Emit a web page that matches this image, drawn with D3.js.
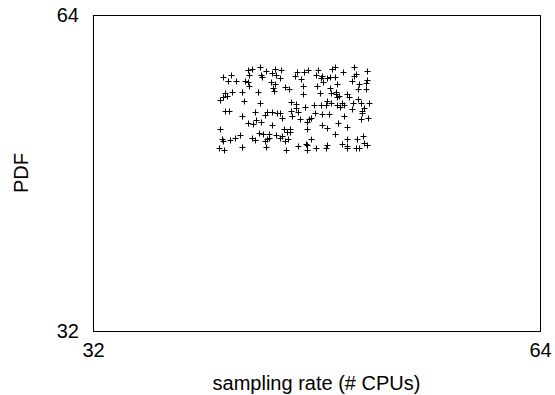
<!DOCTYPE html>
<html>
<head>
<meta charset="utf-8">
<script src="https://cdn.jsdelivr.net/npm/d3@7"></script>
<style>
    body { margin: 0; background: #fff; }
    svg { display: block; }
</style>
</head>
<body>
<svg id="chart"></svg>
<script>
// axis ranges and tick labels
const xDomain = [32, 64];
const yDomain = [32, 64];
const xTicks = [32, 64];
const yTicks = [32, 64];

// sampling rate (# CPUs) of each point
const rateX = [
    43.94, 43.38, 43.10, 43.19, 44.03, 44.12, 44.42, 41.31, 41.88, 41.63,
    42.27, 42.85, 43.10, 43.17, 41.47, 41.92, 42.70, 43.81, 41.59, 41.34,
    41.09, 42.81, 43.92, 44.82, 45.03, 45.10, 45.46, 45.39, 44.71, 45.03,
    44.92, 44.98, 45.75, 46.03, 46.18, 46.53, 46.43, 46.61, 47.11, 47.39,
    46.89, 47.95, 48.11, 48.30, 47.00, 47.06, 48.07, 48.25, 47.18, 47.79,
    48.29, 48.49, 48.78, 48.95, 49.13, 49.31, 49.31, 49.90, 50.69, 50.81,
    50.69, 51.60, 50.57, 51.05, 51.53, 51.00, 51.53, 48.95, 49.49, 49.02,
    49.38, 49.61, 49.49, 50.21, 50.33, 48.78, 49.02, 48.66, 49.49, 49.85,
    49.97, 50.64, 51.00, 51.17, 51.76, 51.40, 48.40, 49.42, 51.64, 41.47,
    41.72, 42.67, 43.62, 44.29, 43.67, 44.05, 43.10, 43.43, 41.11, 43.86,
    44.15, 43.38, 43.62, 44.29, 41.24, 41.31, 41.83, 42.19, 42.55, 41.00,
    41.36, 42.67, 44.39, 44.46, 44.82, 45.17, 45.41, 45.53, 46.25, 46.18,
    46.64, 46.82, 44.82, 45.65, 46.13, 45.89, 46.11, 44.58, 45.12, 45.53,
    44.58, 44.46, 45.73, 45.39, 45.94, 45.82, 46.51, 50.57, 51.24, 51.28,
    51.69, 51.17, 47.59, 47.47, 47.30, 48.42, 48.90, 49.97, 47.30, 48.42,
    48.78, 49.56, 50.17, 49.33, 47.63, 46.68, 47.23, 47.34, 47.30, 47.95,
    48.66, 48.78, 49.85, 50.21, 50.21, 50.21, 50.81, 50.92, 51.35, 51.40,
    51.64, 51.05, 49.65, 47.92
];

// PDF value of each point
const pdfY = [
    58.70, 58.50, 58.38, 57.93, 57.93, 57.72, 58.28, 57.75, 57.93, 57.32,
    57.32, 57.32, 57.17, 56.86, 56.07, 56.20, 56.20, 56.25, 55.75, 55.65,
    55.44, 55.29, 55.12, 58.16, 58.50, 57.93, 58.48, 57.67, 57.22, 57.01,
    56.58, 56.30, 56.71, 56.46, 55.24, 54.96, 57.87, 58.18, 58.26, 58.43,
    57.47, 57.93, 58.48, 57.65, 56.78, 55.95, 56.76, 56.07, 54.72, 54.84,
    54.89, 57.25, 57.59, 57.75, 58.50, 58.70, 57.75, 58.20, 58.70, 58.00,
    57.82, 58.36, 57.32, 57.01, 57.08, 56.48, 56.48, 56.64, 57.01, 56.07,
    55.97, 55.80, 55.73, 55.97, 55.67, 55.29, 55.06, 54.89, 54.89, 55.06,
    54.89, 55.12, 55.46, 55.06, 55.06, 54.61, 57.82, 56.25, 57.42, 54.28,
    54.28, 53.77, 54.18, 53.84, 53.37, 53.17, 53.09, 52.93, 52.43, 52.08,
    51.98, 51.58, 51.34, 51.24, 51.41, 51.24, 51.34, 51.58, 51.82, 50.56,
    50.30, 50.66, 50.66, 54.18, 54.18, 54.05, 54.05, 53.60, 53.77, 54.28,
    54.18, 53.50, 52.83, 52.49, 52.49, 52.15, 52.15, 51.92, 51.82, 51.75,
    51.58, 51.41, 51.24, 51.51, 51.41, 50.33, 54.61, 54.51, 54.28, 54.11,
    53.60, 53.50, 53.60, 53.44, 53.20, 53.95, 54.01, 53.77, 52.49, 52.83,
    52.59, 53.03, 52.69, 51.92, 51.47, 50.73, 50.97, 50.81, 50.30, 50.56,
    50.56, 50.81, 50.97, 51.41, 50.73, 50.50, 50.56, 51.47, 51.75, 51.01,
    50.81, 50.50, 54.68, 54.11
];

const width = 555, height = 395;
const margin = { top: 15, right: 15, bottom: 64, left: 93 };
const font = "'Liberation Sans', Arial, Helvetica, sans-serif";
const fontSize = 20;

const svg = d3.select("#chart")
    .attr("width", width)
    .attr("height", height);

// scales
const x = d3.scaleLinear()
    .domain(xDomain)
    .range([margin.left, width - margin.right]);

const y = d3.scaleLinear()
    .domain(yDomain)
    .range([height - margin.bottom, margin.top]);

// X axis, labels only
svg.append("g")
    .attr("transform", `translate(0, ${height - margin.bottom})`)
    .call(d3.axisBottom(x).tickValues(xTicks).tickSize(0).tickPadding(12))
    .call(g => g.select(".domain").remove())
    .call(g => g.selectAll("text")
        .attr("font-family", font).attr("font-size", fontSize).attr("fill", "#000"));

// Y axis, labels only
svg.append("g")
    .attr("transform", `translate(${margin.left}, 0)`)
    .call(d3.axisLeft(y).tickValues(yTicks).tickSize(0).tickPadding(14))
    .call(g => g.select(".domain").remove())
    .call(g => g.selectAll("text")
        .attr("font-family", font).attr("font-size", fontSize).attr("fill", "#000"));

// plot frame
svg.append("rect")
    .attr("x", x(xDomain[0]) + 0.5)
    .attr("y", y(yDomain[1]) + 0.5)
    .attr("width", x(xDomain[1]) - x(xDomain[0]))
    .attr("height", y(yDomain[0]) - y(yDomain[1]))
    .attr("fill", "none")
    .attr("stroke", "#000")
    .attr("stroke-width", 1);

// "+" points
const points = rateX.map((v, i) => ({ x: v, y: pdfY[i] }));
svg.append("g")
    .selectAll("path")
    .data(points)
    .join("path")
    .attr("transform", d => `translate(${Math.round(x(d.x)) + 0.5}, ${Math.round(y(d.y)) + 0.5})`)
    .attr("d", "M-3,0H3M0,-3V3")
    .attr("stroke", "#000")
    .attr("stroke-width", 1)
    .attr("fill", "none");

// axis titles
svg.append("text")
    .attr("x", (x(xDomain[0]) + x(xDomain[1])) / 2)
    .attr("y", 390)
    .attr("text-anchor", "middle")
    .attr("font-family", font)
    .attr("font-size", fontSize)
    .text("sampling rate (# CPUs)");

svg.append("text")
    .attr("transform", `translate(28, ${(y(yDomain[0]) + y(yDomain[1])) / 2}) rotate(-90)`)
    .attr("text-anchor", "middle")
    .attr("font-family", font)
    .attr("font-size", fontSize)
    .text("PDF");
</script>
</body>
</html>
